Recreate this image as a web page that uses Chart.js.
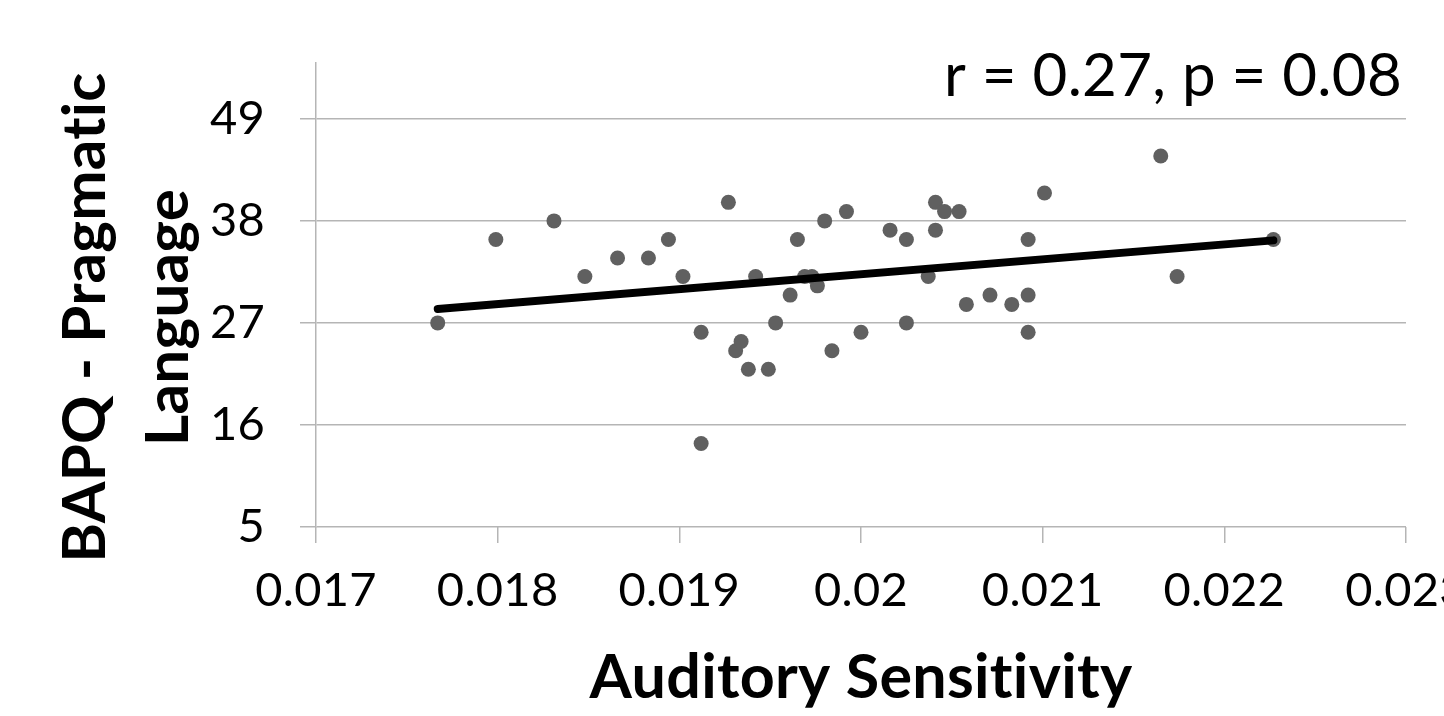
<!DOCTYPE html>
<html>
<head>
<meta charset="utf-8">
<script src="https://cdn.jsdelivr.net/npm/chart.js@4.4.1/dist/chart.umd.min.js"></script>
<style>
  html, body { margin: 0; padding: 0; background: #fff; overflow: hidden; }
  #wrap { width: 1500px; height: 716px; }
</style>
</head>
<body>
<div id="wrap"><canvas id="chart"></canvas></div>
<script>
// Auditory sensitivity (x) vs BAPQ pragmatic language score (y)
const sensitivity = [
  0.01767, 0.01799, 0.01831, 0.01848, 0.01866, 0.01883, 0.01894, 0.01902,
  0.01912, 0.01912, 0.01927, 0.01931, 0.01934, 0.01938, 0.01942, 0.01949,
  0.01953, 0.01961, 0.01965, 0.01969, 0.01973, 0.01976, 0.01980, 0.01984,
  0.01992, 0.02000, 0.02016, 0.02025, 0.02025, 0.02037, 0.02041, 0.02041,
  0.02046, 0.02054, 0.02058, 0.02071, 0.02083, 0.02092, 0.02092, 0.02092,
  0.02101, 0.02165, 0.02174, 0.02227
];
const pragmatic = [
  27, 36, 38, 32, 34, 34, 36, 32,
  26, 14, 40, 24, 25, 22, 32, 22,
  27, 30, 36, 32, 32, 31, 38, 24,
  39, 26, 37, 36, 27, 32, 40, 37,
  39, 39, 29, 30, 29, 30, 36, 26,
  41, 45, 32, 36
];
// linear trend line end points
const trendX = [0.01767, 0.02227];
const trendY = [28.5, 35.9];

const xTicks = [0.017, 0.018, 0.019, 0.020, 0.021, 0.022, 0.023];
const yTicks = [5, 16, 27, 38, 49];
const statsLabel = 'r = 0.27, p = 0.08';

const gridColor = '#b5b5b5';
const pad = '\u00a0\u00a0\u00a0'; // nudges the rotated title down a bit

const statsText = {
  id: 'statsText',
  beforeDraw(chart) {
    // a small letter spacing keeps Lato from joining "ti"
    chart.ctx.letterSpacing = '0.3px';
  },
  afterDraw(chart) {
    const ctx = chart.ctx;
    ctx.save();
    ctx.font = '60px Lato';
    ctx.fillStyle = '#000';
    ctx.textAlign = 'right';
    ctx.textBaseline = 'alphabetic';
    ctx.fillText(statsLabel, chart.chartArea.right - 4, 96);
    ctx.restore();
  }
};

new Chart(document.getElementById('chart'), {
  type: 'scatter',
  data: {
    datasets: [
      {
        type: 'line',
        data: trendX.map((x, i) => ({ x: x, y: trendY[i] })),
        borderColor: '#000',
        borderWidth: 8,
        borderCapStyle: 'round',
        pointRadius: 0,
        fill: false,
        order: 0
      },
      {
        data: sensitivity.map((x, i) => ({ x: x, y: pragmatic[i] })),
        backgroundColor: '#606060',
        borderWidth: 0,
        pointRadius: 7.5,
        order: 1
      }
    ]
  },
  options: {
    responsive: true,
    maintainAspectRatio: false,
    animation: false,
    layout: { padding: { top: 63, right: 94, bottom: 0, left: 0 } },
    plugins: {
      legend: { display: false },
      tooltip: { enabled: false }
    },
    scales: {
      x: {
        type: 'linear',
        min: 0.017,
        max: 0.023,
        afterBuildTicks: (scale) => { scale.ticks = xTicks.map(v => ({ value: v })); },
        afterFit: (scale) => { scale.height = 189; },
        grid: {
          drawOnChartArea: false,
          color: gridColor,
          lineWidth: 1.5,
          tickLength: 16
        },
        border: { display: false },
        ticks: {
          color: '#000',
          font: { family: 'Lato', size: 47 },
          padding: 20,
          maxRotation: 0,
          autoSkip: false,
          callback: (v) => String(Number(v.toFixed(3)))
        },
        title: {
          display: true,
          text: 'Auditory Sensitivity',
          color: '#000',
          font: { family: 'Lato', size: 61, weight: 'bold', lineHeight: 1.2 },
          padding: { top: 0, bottom: 1 }
        }
      },
      y: {
        type: 'linear',
        min: 5,
        max: 55,
        afterBuildTicks: (scale) => { scale.ticks = yTicks.map(v => ({ value: v })); },
        afterFit: (scale) => { scale.width = 316; },
        grid: {
          color: gridColor,
          lineWidth: 1.5,
          tickLength: 16
        },
        border: { color: gridColor, width: 1.5 },
        ticks: {
          color: '#000',
          font: { family: 'Lato', size: 47 },
          padding: 35
        },
        title: {
          display: true,
          text: ['BAPQ - Pragmatic' + pad, 'Language' + pad],
          color: '#000',
          font: { family: 'Lato', size: 60, weight: 'bold', lineHeight: 1.38 },
          padding: { top: 44, bottom: 0 }
        }
      }
    }
  },
  plugins: [statsText]
});
</script>
</body>
</html>
